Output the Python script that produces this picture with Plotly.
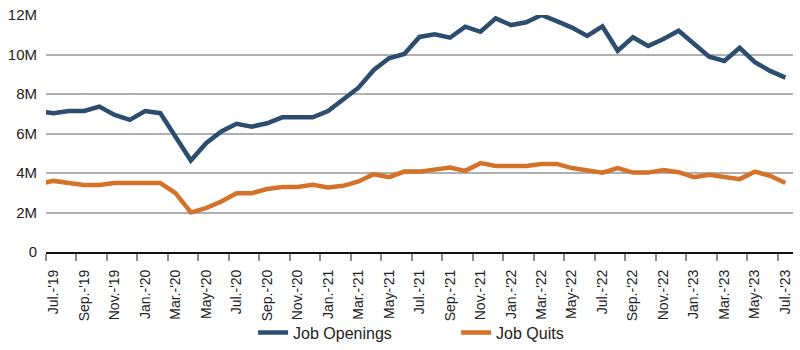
import plotly.graph_objects as go

# Monthly JOLTS series (millions), Jun-2019 through Jul-2023
months = [
    "2019-06", "2019-07", "2019-08", "2019-09", "2019-10", "2019-11", "2019-12",
    "2020-01", "2020-02", "2020-03", "2020-04", "2020-05", "2020-06",
    "2020-07", "2020-08", "2020-09", "2020-10", "2020-11", "2020-12",
    "2021-01", "2021-02", "2021-03", "2021-04", "2021-05", "2021-06",
    "2021-07", "2021-08", "2021-09", "2021-10", "2021-11", "2021-12",
    "2022-01", "2022-02", "2022-03", "2022-04", "2022-05", "2022-06",
    "2022-07", "2022-08", "2022-09", "2022-10", "2022-11", "2022-12",
    "2023-01", "2023-02", "2023-03", "2023-04", "2023-05", "2023-06",
    "2023-07",
]

job_openings = [
    7.13, 7.03, 7.14, 7.14, 7.36, 6.94, 6.69,
    7.14, 7.03, 5.85, 4.63, 5.51, 6.10,
    6.49, 6.35, 6.52, 6.82, 6.82, 6.82,
    7.14, 7.74, 8.32, 9.22, 9.81, 10.03,
    10.89, 11.02, 10.85, 11.41, 11.15, 11.83,
    11.49, 11.63, 12.00, 11.69, 11.36, 10.94,
    11.42, 10.19, 10.87, 10.43, 10.78, 11.20,
    10.56, 9.89, 9.67, 10.34, 9.61, 9.17,
    8.83,
]

job_quits = [
    3.45, 3.60, 3.49, 3.39, 3.39, 3.49, 3.49,
    3.49, 3.49, 2.98, 2.00, 2.22, 2.56,
    2.98, 2.98, 3.19, 3.29, 3.29, 3.40,
    3.27, 3.35, 3.57, 3.94, 3.79, 4.07,
    4.07, 4.16, 4.28, 4.11, 4.50, 4.36,
    4.36, 4.36, 4.46, 4.46, 4.25, 4.16,
    4.02, 4.25, 4.02, 4.02, 4.15, 4.04,
    3.79, 3.91, 3.79, 3.69, 4.07, 3.86,
    3.49,
]

tick_labels = [
    "Jul.-'19", "Sep.-'19", "Nov.-'19", "Jan.-'20", "Mar.-'20", "May-'20",
    "Jul.-'20", "Sep.-'20", "Nov.-'20", "Jan.-'21", "Mar.-'21", "May-'21",
    "Jul.-'21", "Sep.-'21", "Nov.-'21", "Jan.-'22", "Mar.-'22", "May-'22",
    "Jul.-'22", "Sep.-'22", "Nov.-'22", "Jan.-'23", "Mar.-'23", "May-'23",
    "Jul.-'23",
]

y_ticks = [0, 2, 4, 6, 8, 10, 12]
y_tick_text = ["0", "2M", "4M", "6M", "8M", "10M", "12M"]

# position 0 = Jul-2019; the Jun-2019 point sits just left of the axis
x = [i - 1 for i in range(len(months))]
n_shown = len(months) - 1
label_pos = list(range(0, n_shown, 2))
boundary_pos = [p - 0.5 for p in label_pos]

BLUE = "#2c4d6e"
ORANGE = "#d5722a"

fig = go.Figure()
fig.add_trace(go.Scatter(
    x=x, y=job_openings, mode="lines", name="Job Openings",
    line=dict(color=BLUE, width=4.5, shape="linear"),
    customdata=months,
    hovertemplate="%{customdata}: %{y:.2f}M<extra></extra>",
))
fig.add_trace(go.Scatter(
    x=x, y=job_quits, mode="lines", name="Job Quits",
    line=dict(color=ORANGE, width=4.5, shape="linear"),
    customdata=months,
    hovertemplate="%{customdata}: %{y:.2f}M<extra></extra>",
))

fig.update_layout(
    width=800, height=350,
    margin=dict(l=46, r=7, t=15, b=98, autoexpand=False),
    paper_bgcolor="white", plot_bgcolor="white",
    font=dict(family="Liberation Sans, Arial, sans-serif", color="#222222"),
    showlegend=True,
    legend=dict(
        orientation="h", x=0.549, xanchor="center", y=-0.34, yanchor="middle",
        font=dict(size=16, color="#222222"),
        entrywidth=158, entrywidthmode="pixels",
        bgcolor="rgba(0,0,0,0)",
    ),
)

fig.update_xaxes(
    range=[-0.5, n_shown - 0.5],
    tickmode="array", tickvals=label_pos, ticktext=tick_labels,
    tickangle=-90, ticks="", ticklabelstandoff=10,
    tickfont=dict(size=14, family="Liberation Sans Narrow, Liberation Sans, Arial, sans-serif",
                  color="#222222"),
    showgrid=False, zeroline=False, automargin=False,
    showline=True, linecolor="#111111", linewidth=2,
    minor=dict(tickmode="array", tickvals=boundary_pos, ticks="outside",
               ticklen=7, tickwidth=1.5, tickcolor="#8c8c8c", showgrid=False),
)

fig.update_yaxes(
    range=[0, 12],
    tickmode="array", tickvals=y_ticks, ticktext=y_tick_text,
    tickfont=dict(size=15, color="#222222"),
    ticks="", ticklabelstandoff=8, automargin=False,
    showgrid=True, gridcolor="#b0b0b0", gridwidth=1.5,
    zeroline=False, showline=False,
)

fig.write_html("out.html")
